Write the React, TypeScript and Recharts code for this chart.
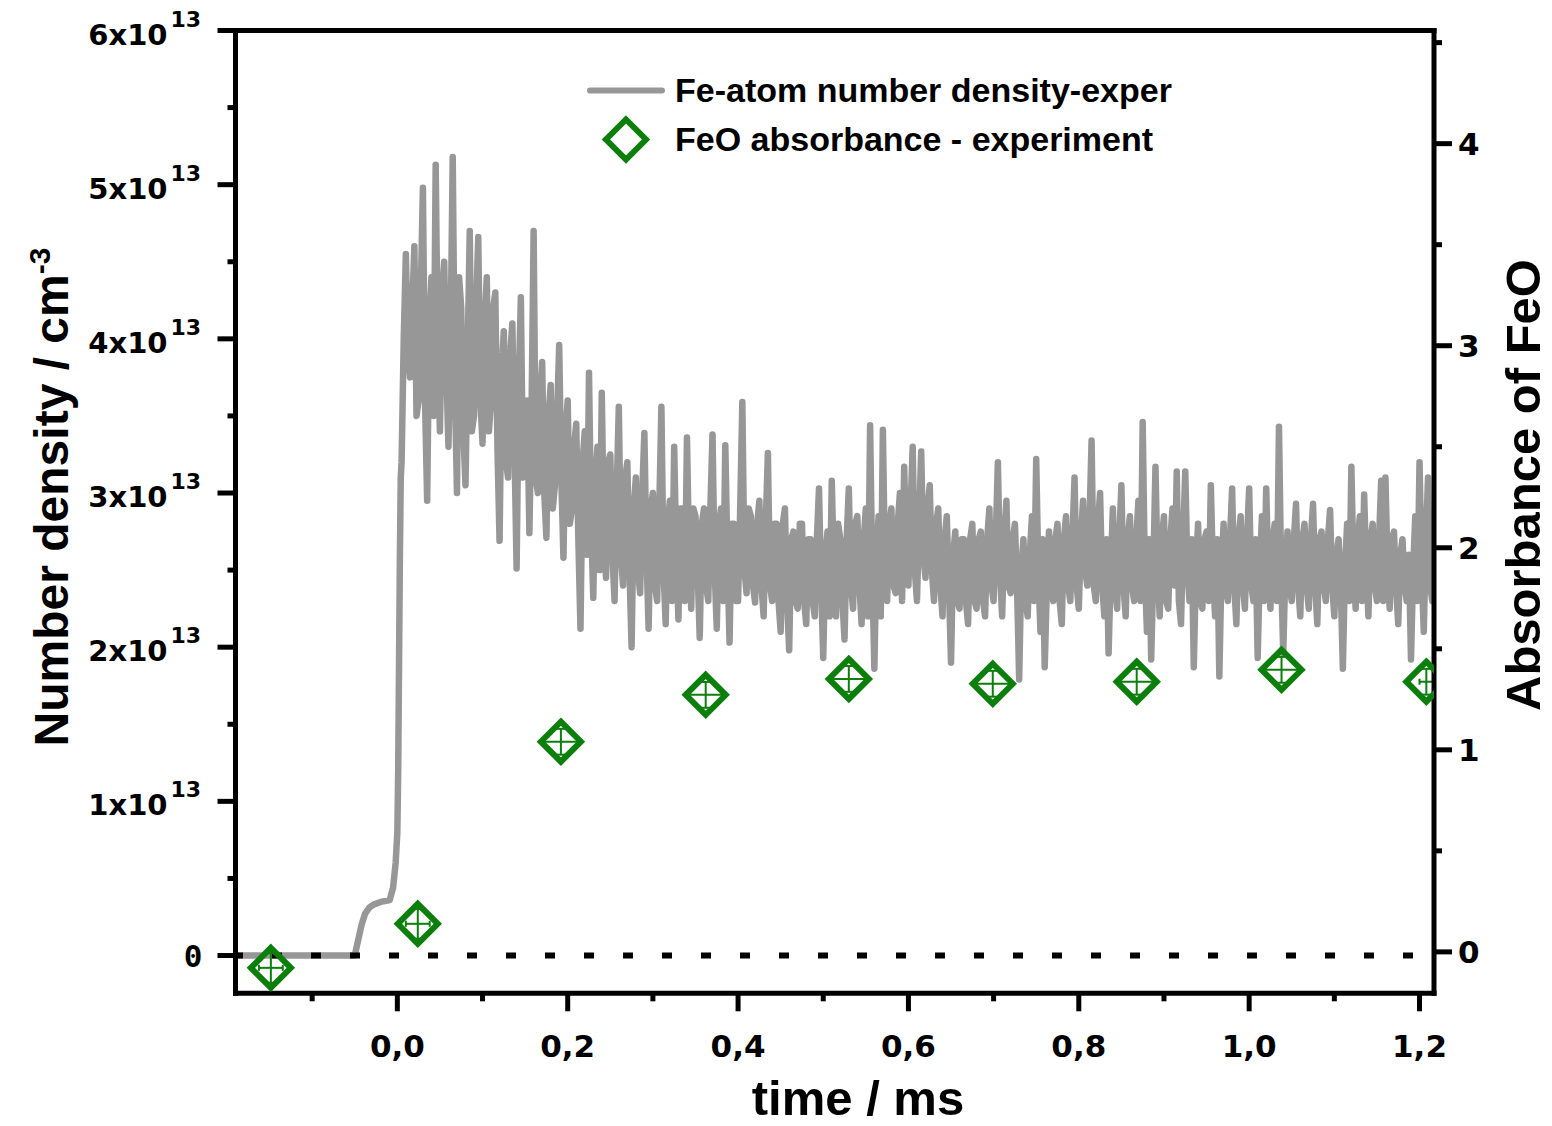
import React from 'react';
import {
  ComposedChart,
  Line,
  Scatter,
  XAxis,
  YAxis,
  ReferenceLine,
  ErrorBar,
  Legend,
} from 'recharts';

const GREY = '#979797';
const GREEN = '#0b7e0b';
const SANS = '"Liberation Sans", Arial, sans-serif';
const TICK_FONT = '"DejaVu Sans", sans-serif';

// Fe-atom number density (units of 1e13 cm^-3): pre-trigger and rise
const RISE_T = [-0.19, -0.05, -0.046, -0.042, -0.038, -0.033, -0.028, -0.018, -0.009, -0.005, -0.002, 0.0, 0.001, 0.002, 0.003, 0.004];
const RISE_N = [0, 0, 0.1, 0.2, 0.27, 0.31, 0.33, 0.35, 0.36, 0.44, 0.6, 0.8, 1.2, 1.9, 2.6, 3.1];

// noisy part, sampled every NOISE_DT ms starting at NOISE_T0
const NOISE_T0 = 0.005;
const NOISE_DT = 0.0025;
const NOISE_N = [
  3.20, 4.0, 4.55, 3.9, 3.75, 4.2, 4.60, 3.5, 3.60, 4.3,
  4.98, 3.6, 2.95, 4.1, 4.40, 3.5, 5.13, 3.9, 3.40, 4.3,
  4.50, 3.8, 3.30, 4.0, 5.18, 3.7, 3.00, 4.4, 4.20, 3.4,
  3.05, 3.9, 4.70, 3.4, 3.50, 4.2, 4.66, 3.6, 3.32, 4.1,
  4.40, 3.4, 3.60, 4.2, 4.30, 3.3, 2.69, 3.8, 4.05, 3.2,
  3.10, 3.9, 4.10, 3.3, 2.51, 3.7, 4.27, 3.1, 3.20, 3.6,
  2.74, 3.5, 4.70, 3.1, 3.00, 3.6, 3.85, 3.0, 2.71, 3.5,
  3.70, 2.9, 3.05, 3.5, 3.96, 3.1, 2.58, 3.4, 3.60, 2.8,
  2.90, 3.3, 3.45, 2.7, 2.12, 3.2, 3.40, 2.6, 3.78, 2.8,
  2.32, 3.1, 3.30, 2.5, 3.65, 2.7, 2.45, 3.2, 3.25, 2.6,
  2.30, 3.0, 3.56, 2.6, 2.40, 3.1, 3.20, 2.5, 2.00, 2.9,
  3.10, 2.5, 2.35, 3.0, 3.39, 2.6, 2.12, 2.9, 3.00, 2.4,
  2.30, 2.9, 3.56, 2.5, 2.15, 2.8, 2.95, 2.3, 3.30, 2.6,
  2.18, 2.9, 2.90, 2.3, 3.36, 2.6, 2.25, 2.9, 2.85, 2.5,
  2.06, 2.8, 2.90, 2.4, 2.30, 2.9, 3.38, 2.5, 2.12, 2.8,
  2.90, 2.3, 3.31, 2.6, 2.03, 2.8, 2.80, 2.3, 2.30, 2.9,
  3.59, 2.5, 2.35, 2.9, 2.85, 2.4, 2.29, 2.8, 2.95, 2.4,
  2.20, 2.8, 3.26, 2.4, 2.30, 2.8, 2.80, 2.3, 2.10, 2.8,
  2.90, 2.3, 1.98, 2.7, 2.75, 2.3, 2.25, 2.8, 2.80, 2.3,
  2.15, 2.7, 2.70, 2.3, 2.20, 2.7, 3.03, 2.4, 1.93, 2.6,
  2.75, 2.2, 3.08, 2.5, 2.20, 2.8, 2.70, 2.3, 2.05, 2.7,
  3.03, 2.4, 2.25, 2.8, 2.85, 2.4, 2.15, 2.7, 2.90, 2.2,
  3.44, 2.5, 1.86, 2.6, 2.85, 2.2, 3.41, 2.5, 2.30, 2.8,
  2.90, 2.4, 2.35, 2.8, 3.00, 2.3, 3.17, 2.6, 2.40, 2.9,
  3.30, 2.5, 2.30, 2.8, 3.27, 2.6, 2.45, 2.9, 3.05, 2.5,
  2.30, 2.8, 2.90, 2.4, 2.20, 2.7, 2.85, 2.4, 1.90, 2.6,
  2.75, 2.3, 2.25, 2.7, 2.70, 2.3, 2.15, 2.7, 2.80, 2.3,
  2.25, 2.7, 2.75, 2.3, 2.20, 2.7, 2.90, 2.4, 2.30, 2.7,
  3.20, 2.5, 2.20, 2.7, 2.95, 2.4, 2.35, 2.7, 2.80, 2.4,
  1.79, 2.5, 2.70, 2.3, 2.20, 2.6, 2.85, 2.3, 3.22, 2.5,
  2.10, 2.7, 1.87, 2.4, 2.75, 2.4, 2.30, 2.7, 2.80, 2.3,
  2.15, 2.7, 2.85, 2.4, 2.30, 2.7, 3.10, 2.4, 2.25, 2.7,
  2.95, 2.5, 2.40, 2.8, 3.34, 2.4, 2.30, 2.8, 3.00, 2.4,
  2.20, 2.7, 1.96, 2.5, 2.90, 2.4, 2.25, 2.7, 3.05, 2.4,
  2.20, 2.7, 2.85, 2.4, 2.30, 2.7, 2.95, 2.3, 3.46, 2.5,
  2.10, 2.7, 1.92, 2.5, 3.17, 2.5, 2.20, 2.7, 2.85, 2.3,
  2.25, 2.7, 2.90, 2.4, 3.14, 2.3, 2.15, 2.7, 3.14, 2.5,
  2.30, 2.7, 1.87, 2.5, 2.80, 2.3, 2.25, 2.7, 2.75, 2.3,
  3.05, 2.5, 2.20, 2.7, 1.81, 2.5, 2.80, 2.4, 2.30, 2.7,
  3.03, 2.4, 2.15, 2.7, 2.85, 2.4, 2.25, 2.7, 3.03, 2.4,
  2.30, 2.7, 1.93, 2.5, 2.85, 2.3, 3.03, 2.5, 2.25, 2.7,
  2.80, 2.3, 3.43, 2.5, 1.96, 2.5, 2.75, 2.4, 2.30, 2.7,
  2.93, 2.4, 2.20, 2.7, 2.80, 2.4, 2.25, 2.7, 2.93, 2.4,
  2.15, 2.7, 2.75, 2.4, 2.30, 2.7, 2.89, 2.4, 2.20, 2.6,
  2.70, 2.4, 1.86, 2.5, 2.80, 2.3, 3.17, 2.5, 2.25, 2.7,
  2.85, 2.3, 2.99, 2.5, 2.20, 2.7, 2.80, 2.4, 2.30, 2.7,
  3.08, 2.3, 3.10, 2.5, 2.25, 2.7, 2.75, 2.4, 2.15, 2.6,
  2.70, 2.4, 2.30, 2.6, 1.92, 2.5, 2.85, 2.3, 3.20, 2.5,
  2.10, 2.7, 3.10, 2.4, 2.30, 2.7, 2.90,
];

// FeO absorbance (right axis)
const FEO_T = [-0.1485, 0.024, 0.192, 0.362, 0.53, 0.699, 0.868, 1.038, 1.208];
const FEO_A = [-0.079, 0.139, 1.04, 1.272, 1.351, 1.327, 1.337, 1.396, 1.337];
const FEO_ERR_A = [0.074, 0.074, 0.064, 0.064, 0.064, 0.064, 0.064, 0.064, 0.064];
const FEO_ERR_T = [0.014, 0.014, 0.0225, 0.0225, 0.0225, 0.0225, 0.0225, 0.0225, 0.008];

// axes
const X_DOMAIN = [-0.19, 1.217];
const LEFT_DOMAIN = [-0.245, 6];
const RIGHT_DOMAIN = [-0.205, 4.56];
const X_TICKS = [-0.1, 0, 0.1, 0.2, 0.3, 0.4, 0.5, 0.6, 0.7, 0.8, 0.9, 1.0, 1.1, 1.2];
const LEFT_TICKS = [0, 0.5, 1, 1.5, 2, 2.5, 3, 3.5, 4, 4.5, 5, 5.5, 6];
const RIGHT_TICKS = [0, 0.5, 1, 1.5, 2, 2.5, 3, 3.5, 4, 4.5];
const LEFT_EXPONENT = '13';

const lineData = [
  ...RISE_T.map((t, i) => ({ t, n: RISE_N[i] })),
  ...NOISE_N.map((n, i) => ({ t: NOISE_T0 + i * NOISE_DT, n })),
];
const feoData = FEO_T.map((t, i) => ({ t, a: FEO_A[i], ea: FEO_ERR_A[i], et: FEO_ERR_T[i] }));

const MAJOR = 18;
const MINOR = 8;
const TW = 5;

const isMajorX = (v: number) => Math.abs(Math.round(v * 10)) % 2 === 0;
const fmtX = (v: number) => v.toFixed(1).replace('.', ',');

const BottomTick = (p: any) => {
  const { x, y, payload } = p;
  const v = payload.value;
  const major = isMajorX(v);
  return (
    <g>
      <line x1={x} x2={x} y1={y} y2={y + (major ? MAJOR : MINOR)} stroke="#000" strokeWidth={TW} />
      {major && (
        <text x={x} y={y + 64} textAnchor="middle" fontFamily={TICK_FONT} fontWeight="bold" fontSize={31} fill="#000">
          {fmtX(v)}
        </text>
      )}
    </g>
  );
};

const TopTick = (p: any) => {
  const { x, y, payload } = p;
  const major = isMajorX(payload.value);
  return <line x1={x} x2={x} y1={y} y2={y + (major ? MAJOR : MINOR)} stroke="#000" strokeWidth={TW} />;
};

const LeftTick = (p: any) => {
  const { x, y, payload } = p;
  const v = payload.value;
  const major = Number.isInteger(v);
  return (
    <g>
      <line x1={x} x2={x - (major ? MAJOR : MINOR)} y1={y} y2={y} stroke="#000" strokeWidth={TW} />
      {major && v === 0 && (
        <text x={x - 33} y={y + 11.5} textAnchor="end" fontFamily='"DejaVu Sans Mono", monospace' fontWeight="bold" fontSize={31} fill="#000">
          0
        </text>
      )}
      {major && v !== 0 && (
        <g>
          <text x={x - 68} y={y + 14} textAnchor="end" fontFamily={TICK_FONT} fontWeight="bold" fontSize={29} fill="#000">
            {`${v}x10`}
          </text>
          <text x={x - 65} y={y - 4} textAnchor="start" fontFamily={TICK_FONT} fontWeight="bold" fontSize={22} fill="#000">
            {LEFT_EXPONENT}
          </text>
        </g>
      )}
    </g>
  );
};

const RightTick = (p: any) => {
  const { x, y, payload } = p;
  const v = payload.value;
  const major = Number.isInteger(v);
  return (
    <g>
      <line x1={x} x2={x + (major ? MAJOR : MINOR)} y1={y} y2={y} stroke="#000" strokeWidth={TW} />
      {major && (
        <text x={x + 24} y={y + 11} textAnchor="start" fontFamily={TICK_FONT} fontWeight="bold" fontSize={31} fill="#000">
          {String(v)}
        </text>
      )}
    </g>
  );
};

const DiamondShape = (p: any) => {
  const { cx, cy } = p;
  if (cx == null || cy == null) return null;
  const r = 20;
  return (
    <polygon
      points={`${cx},${cy - r} ${cx + r},${cy} ${cx},${cy + r} ${cx - r},${cy}`}
      fill="none"
      stroke={GREEN}
      strokeWidth={6}
    />
  );
};

const LeftTitle = () => (
  <text transform="translate(68,497) rotate(-90)" textAnchor="middle" fontFamily={SANS} fontWeight="bold" fontSize={48} fill="#000">
    Number density / cm
    <tspan dy={-18} fontSize={30}>-3</tspan>
  </text>
);

const RightTitle = () => (
  <text transform="translate(1540,485) rotate(-90)" textAnchor="middle" fontFamily={SANS} fontWeight="bold" fontSize={49} fill="#000">
    Absorbance of FeO
  </text>
);

const BottomTitle = () => (
  <text x={858} y={1115} textAnchor="middle" fontFamily={SANS} fontWeight="bold" fontSize={49} fill="#000">
    time / ms
  </text>
);

const renderLegend = () => (
  <div style={{ fontFamily: SANS, fontWeight: 'bold', fontSize: 34, color: '#000', lineHeight: 1 }}>
    <div style={{ display: 'flex', alignItems: 'center', height: 49 }}>
      <svg width={78} height={49} style={{ flex: 'none' }}>
        <line x1={3} x2={75} y1={24.5} y2={24.5} stroke={GREY} strokeWidth={6} strokeLinecap="round" />
      </svg>
      <span style={{ marginLeft: 10, whiteSpace: 'nowrap' }}>Fe-atom number density-exper</span>
    </div>
    <div style={{ display: 'flex', alignItems: 'center', height: 49 }}>
      <svg width={78} height={49} style={{ flex: 'none' }}>
        <polygon points="39,4.5 59,24.5 39,44.5 19,24.5" fill="none" stroke={GREEN} strokeWidth={6} />
      </svg>
      <span style={{ marginLeft: 10, whiteSpace: 'nowrap' }}>FeO absorbance - experiment</span>
    </div>
  </div>
);

const axisLine = { stroke: '#000', strokeWidth: 5, strokeLinecap: 'square' as const };

export default function App() {
  return (
    <div style={{ position: 'absolute', left: 0, top: 0, width: 1552, height: 1126, background: '#fff' }}>
      <ComposedChart
        width={1552}
        height={1126}
        margin={{ top: 29.5, right: 18, bottom: 32.7, left: 35.5 }}
      >
        <XAxis
          xAxisId={0}
          dataKey="t"
          type="number"
          domain={X_DOMAIN}
          allowDataOverflow
          ticks={X_TICKS}
          interval={0}
          height={100}
          tickSize={0}
          tickMargin={0}
          tickLine={false}
          axisLine={axisLine}
          tick={<BottomTick />}
          label={<BottomTitle />}
        />
        <XAxis
          xAxisId="top"
          orientation="top"
          type="number"
          domain={X_DOMAIN}
          allowDataOverflow
          ticks={X_TICKS}
          interval={0}
          height={1}
          tickSize={0}
          tickMargin={0}
          tickLine={false}
          axisLine={axisLine}
          tick={<TopTick />}
        />
        <YAxis
          yAxisId="left"
          type="number"
          domain={LEFT_DOMAIN}
          allowDataOverflow
          ticks={LEFT_TICKS}
          interval={0}
          width={200}
          tickSize={0}
          tickMargin={0}
          tickLine={false}
          axisLine={axisLine}
          tick={<LeftTick />}
          label={<LeftTitle />}
        />
        <YAxis
          yAxisId="right"
          orientation="right"
          type="number"
          domain={RIGHT_DOMAIN}
          allowDataOverflow
          ticks={RIGHT_TICKS}
          interval={0}
          width={100}
          tickSize={0}
          tickMargin={0}
          tickLine={false}
          axisLine={axisLine}
          tick={<RightTick />}
          label={<RightTitle />}
        />
        <Legend
          content={renderLegend}
          layout="horizontal"
          verticalAlign="middle"
          align="center"
          wrapperStyle={{ left: 587, top: 65.5, width: 700, height: 98 }}
        />
        <Line
          data={lineData}
          xAxisId={0}
          yAxisId="left"
          dataKey="n"
          type="linear"
          stroke={GREY}
          strokeWidth={6.5}
          strokeLinejoin="round"
          strokeLinecap="round"
          dot={false}
          activeDot={false}
          isAnimationActive={false}
        />
        <ReferenceLine
          xAxisId={0}
          yAxisId="left"
          y={0}
          stroke="#000"
          strokeWidth={6}
          strokeDasharray="10 29"
          strokeDashoffset={2.5}
        />
        <Scatter
          data={feoData}
          xAxisId={0}
          yAxisId="right"
          dataKey="a"
          shape={<DiamondShape />}
          isAnimationActive={false}
        >
          <ErrorBar dataKey="ea" direction="y" width={7} stroke={GREEN} strokeWidth={2} isAnimationActive={false} />
          <ErrorBar dataKey="et" direction="x" width={3} stroke={GREEN} strokeWidth={2} isAnimationActive={false} />
        </Scatter>
      </ComposedChart>
    </div>
  );
}
